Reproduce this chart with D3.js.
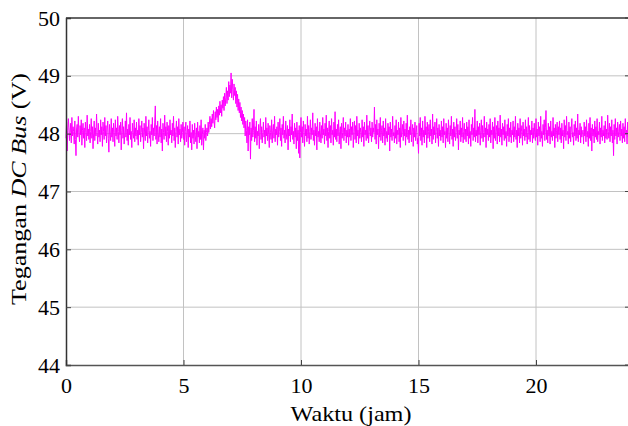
<!DOCTYPE html>
<html><head><meta charset="utf-8">
<script src="https://cdn.jsdelivr.net/npm/d3@7"></script>
<style>body{margin:0;background:#fff}svg{display:block}</style>
</head><body><svg id="c" width="628" height="426"></svg>
<script>
const FONT='"Liberation Serif","Times New Roman",Times,"DejaVu Serif","Noto Serif",serif';
const xTicks=[0,5,10,15,20];
const yTicks=[44,45,46,47,48,49,50];
const tStep=0.025; // hours between samples
const voltage=[
47.92,48.20,47.70,48.05,48.26,48.10,47.88,48.02,48.18,47.84,48.28,47.96,48.12,48.04,47.82,48.22,47.90,47.62,48.08,48.16,
47.94,48.30,48.00,47.86,48.14,47.98,48.24,47.80,48.06,48.18,47.92,48.10,47.76,48.20,48.02,47.88,48.32,47.96,48.08,47.90,
48.16,47.84,48.04,48.26,47.92,48.12,47.74,48.00,48.22,47.88,48.10,47.96,48.34,48.02,47.82,48.18,47.94,48.06,47.86,48.24,
47.98,48.12,47.78,48.20,48.04,47.90,48.28,47.96,48.14,47.84,48.08,48.22,47.92,47.68,48.16,48.00,47.88,48.26,47.94,48.10,
47.86,48.18,48.02,47.78,48.24,47.96,48.10,47.90,48.30,48.04,47.84,48.14,47.98,48.20,47.72,48.06,48.26,47.92,48.12,47.82,
48.00,48.22,47.94,48.36,47.88,48.08,47.80,48.16,47.98,48.28,47.90,48.04,47.76,48.18,48.02,47.92,48.24,47.86,48.10,47.96,
48.20,47.90,48.06,47.80,48.26,47.98,48.14,47.86,48.02,48.22,47.94,48.10,47.74,48.18,48.00,47.88,48.30,47.96,48.12,47.84,
48.06,48.24,47.92,48.04,47.78,48.16,47.98,48.28,47.88,48.10,47.96,48.20,48.48,47.90,48.14,47.82,48.22,48.00,47.86,48.12,
47.94,48.26,47.84,48.08,47.70,48.18,48.02,47.90,48.32,47.96,48.12,47.86,48.20,48.04,47.80,48.14,47.92,48.24,47.98,48.06,
47.84,48.18,47.96,48.30,47.88,48.10,47.76,48.04,48.22,47.94,48.12,47.82,48.26,47.98,48.08,47.86,48.16,47.92,48.02,48.20,
47.90,48.12,47.80,48.04,48.20,47.86,47.98,48.14,47.76,48.08,47.94,48.22,47.84,48.02,47.72,48.16,47.92,48.06,47.82,48.18,
47.96,47.86,48.10,47.74,48.20,47.94,48.04,47.84,48.14,47.90,48.24,47.80,47.98,48.10,47.72,48.06,47.92,48.16,47.88,48.02,
48.10,47.96,48.20,48.02,48.16,48.30,48.08,48.26,48.12,48.34,48.18,48.40,48.22,48.10,48.38,48.24,48.46,48.28,48.42,48.20,
48.48,48.32,48.56,48.36,48.50,48.30,48.58,48.44,48.64,48.40,48.70,48.48,48.62,48.80,48.52,48.74,48.58,48.90,48.64,48.84,
48.70,49.05,48.62,48.94,48.76,48.58,48.86,48.66,48.80,48.52,48.74,48.46,48.68,48.40,48.60,48.36,48.54,48.28,48.46,48.22,
48.40,48.16,48.34,48.10,48.28,47.96,48.22,48.06,47.84,48.24,47.70,48.12,47.98,48.20,47.56,48.10,47.88,48.26,47.94,48.06,
48.42,47.86,48.12,47.92,48.22,47.80,48.04,47.96,48.16,47.74,48.08,48.26,47.90,48.12,47.84,48.02,48.20,47.94,48.06,47.82,
48.28,47.96,48.10,47.88,48.18,47.98,47.76,48.14,48.02,47.90,48.24,47.84,48.06,48.16,47.92,48.30,47.86,48.08,47.98,48.12,
47.80,48.20,47.94,48.04,48.26,47.88,48.10,47.78,48.16,47.98,48.30,47.92,48.06,47.84,48.22,48.00,47.90,48.14,47.72,48.08,
47.96,48.24,47.86,48.12,47.98,48.34,47.90,48.04,47.82,48.18,47.94,48.10,47.74,48.20,47.88,48.06,47.66,48.14,47.58,48.02,
48.28,47.94,48.12,47.84,48.22,48.02,47.78,48.16,47.96,48.08,47.86,48.30,47.92,48.14,47.82,48.04,48.24,47.90,48.10,47.98,
48.36,47.88,48.06,47.80,48.18,47.96,48.12,47.72,48.26,47.94,48.04,47.86,48.20,48.00,47.84,48.14,47.92,48.28,47.98,48.08,
47.82,48.18,47.96,48.32,47.88,48.10,47.76,48.04,48.22,47.92,48.14,47.84,48.26,47.98,48.06,47.80,48.20,47.94,48.38,47.90,
48.08,47.86,48.16,47.96,48.24,47.82,48.04,48.12,47.74,48.18,47.92,48.02,48.28,47.88,48.10,47.96,48.20,47.84,48.06,47.94,
48.16,47.80,48.08,47.94,48.26,47.88,48.12,47.98,48.20,47.76,48.04,48.22,47.90,48.14,47.84,48.30,47.96,48.06,47.82,48.18,
47.92,48.10,48.02,47.86,48.24,47.94,48.12,47.78,48.20,47.98,48.06,47.88,48.32,47.92,48.14,47.84,48.04,48.22,47.96,48.10,
47.86,48.20,47.94,48.10,48.02,48.46,47.90,48.16,47.82,48.24,47.98,48.08,47.74,48.18,47.94,48.28,47.88,48.06,48.14,47.84,
48.22,47.96,48.10,47.80,48.26,47.92,48.04,47.86,48.18,47.98,48.12,47.70,48.20,47.94,48.08,47.88,48.30,47.96,48.02,47.84,
48.14,47.92,48.24,47.82,48.06,47.98,48.20,47.86,48.10,47.76,48.28,47.94,48.04,48.16,47.88,48.22,47.96,48.08,47.80,48.18,
47.94,48.32,47.90,48.06,47.84,48.12,47.98,48.24,47.86,48.04,48.16,47.78,48.10,47.94,48.20,47.88,48.02,48.14,47.82,47.92,
47.66,48.18,47.96,48.28,47.88,48.10,47.80,48.22,47.94,48.06,47.84,48.30,47.98,48.12,47.76,48.20,47.92,48.04,48.16,47.86,
48.24,47.96,48.08,47.82,48.34,47.90,48.12,47.98,48.20,47.84,48.04,48.26,47.92,48.10,47.78,48.16,47.96,48.06,47.88,48.22,
47.94,48.12,47.84,48.26,47.98,48.04,47.76,48.18,47.92,48.10,47.86,48.24,48.00,47.82,48.14,47.96,48.30,47.90,48.08,47.78,
48.20,47.94,48.12,47.88,48.02,48.26,47.92,48.16,47.72,48.06,47.98,48.22,47.86,48.10,47.94,48.28,47.84,48.04,48.18,47.90,
48.08,47.86,48.20,47.96,48.12,47.82,48.24,47.92,48.04,47.78,48.16,47.98,48.28,47.88,48.10,47.94,48.42,47.86,48.06,47.96,
48.22,47.84,48.12,47.98,48.18,47.80,48.06,48.24,47.92,48.14,47.86,48.02,48.30,47.94,48.10,47.76,48.20,47.98,48.08,47.88,
48.16,47.94,48.26,47.84,48.06,47.98,48.20,47.74,48.12,47.92,48.28,47.88,48.04,48.14,47.82,48.22,47.96,48.10,47.86,48.32,
47.94,48.08,47.80,48.18,47.98,48.12,47.88,48.24,47.92,48.04,47.78,48.16,47.96,48.26,47.86,48.10,47.94,48.20,47.84,48.06,
47.98,48.22,47.86,48.12,47.94,48.30,47.90,48.06,47.76,48.18,47.96,48.10,47.84,48.26,47.92,48.04,48.14,47.80,48.20,47.96,
48.08,47.88,48.24,47.94,48.12,47.82,48.02,48.28,47.90,48.14,47.86,48.06,47.98,48.22,47.84,48.10,47.92,48.18,47.96,47.88,
48.26,47.94,48.08,47.80,48.20,47.96,48.12,47.86,48.30,47.92,48.04,47.78,48.16,47.98,48.24,47.88,48.10,48.40,47.90,48.06,
47.84,48.18,47.96,48.12,47.82,48.22,47.94,48.04,47.88,48.28,47.96,48.10,47.76,48.16,47.92,48.06,48.20,47.86,48.12,47.98,
48.22,47.90,48.10,47.84,48.18,47.96,48.06,47.74,48.24,47.94,48.14,47.88,48.30,47.98,48.04,47.82,48.20,47.92,48.12,47.86,
48.08,48.26,47.94,48.02,47.80,48.16,47.96,48.22,47.88,48.10,47.92,48.34,47.86,48.06,47.98,48.18,47.84,48.12,47.94,48.04,
48.06,47.82,48.20,47.96,48.12,47.86,48.24,47.94,48.04,47.78,48.18,47.92,48.28,47.88,48.10,47.70,48.16,47.96,48.08,47.84,
48.22,47.94,48.12,47.90,48.26,47.86,48.04,47.98,48.20,47.82,48.10,47.94,48.30,47.88,48.06,47.96,48.14,47.84,48.22,47.92,
48.08,47.90,48.32,48.04,47.92,48.18,47.86,48.12,47.96,48.24,47.84,48.06,47.62,48.16,47.90,48.26,47.96,48.10,47.82,48.20,
47.94,48.04,48.16,47.88,48.22,47.96,48.08,47.84,48.18,47.92,48.12,47.86,48.26,47.98,48.06,47.82,48.20,47.94,48.10,47.88,
48.00
];
const svg=d3.select("#c");
const L=66,R=630,T=18,B=365;
const x=d3.scaleLinear().domain([0,24]).range([L,R]);
const y=d3.scaleLinear().domain([44,50]).range([B,T]);
// grid
svg.append("g").selectAll("line").data(xTicks.slice(1)).join("line")
 .attr("x1",d=>x(d)).attr("x2",d=>x(d)).attr("y1",T).attr("y2",B)
 .attr("stroke","#c2c2c2").attr("stroke-width",1);
svg.append("g").selectAll("line").data(yTicks.slice(1,-1)).join("line")
 .attr("x1",L).attr("x2",R).attr("y1",d=>y(d)).attr("y2",d=>y(d))
 .attr("stroke","#c2c2c2").attr("stroke-width",1);
// data line
const line=d3.line().x((d,i)=>x(i*tStep)).y(d=>y(d));
svg.append("path").datum(voltage).attr("d",line)
 .attr("fill","none").attr("stroke","#ff00ff").attr("stroke-width",1);
// axes
const xa=svg.append("g").attr("transform",`translate(0,${B})`)
 .call(d3.axisBottom(x).tickValues(xTicks).tickSize(-5).tickPadding(12).tickFormat(d3.format("d")));
const ya=svg.append("g").attr("transform",`translate(${L},0)`)
 .call(d3.axisLeft(y).tickValues(yTicks).tickSize(-5).tickPadding(6).tickFormat(d3.format("d")));
[xa,ya].forEach(a=>{a.attr("font-family",FONT).attr("font-size",22);
 a.select(".domain").attr("stroke","#555").attr("stroke-width",1.5);
 a.selectAll(".tick line").attr("stroke","#444");
 a.selectAll("text").attr("font-family",FONT).attr("font-size",22).attr("fill","#000");});
ya.select(".domain").attr("stroke","#333");
// right ticks and top border
svg.append("g").selectAll("line").data(yTicks).join("line")
 .attr("x1",R-5).attr("x2",R).attr("y1",d=>y(d)).attr("y2",d=>y(d)).attr("stroke","#444");
svg.append("line").attr("x1",L).attr("x2",R).attr("y1",T).attr("y2",T).attr("stroke","#333").attr("stroke-width",1.5);
// labels
svg.append("text").attr("x",351).attr("y",421).attr("text-anchor","middle")
 .attr("font-family",FONT).attr("font-size",22)
 .attr("textLength",121).attr("lengthAdjust","spacingAndGlyphs").text("Waktu (jam)");
const yl=svg.append("text").attr("transform",`translate(26,189) rotate(-90)`)
 .attr("text-anchor","middle").attr("font-family",FONT).attr("font-size",22)
 .attr("textLength",232).attr("lengthAdjust","spacingAndGlyphs");
yl.append("tspan").text("Tegangan ");
yl.append("tspan").attr("font-style","italic").text("DC Bus");
yl.append("tspan").text(" (V)");
</script></body></html>
